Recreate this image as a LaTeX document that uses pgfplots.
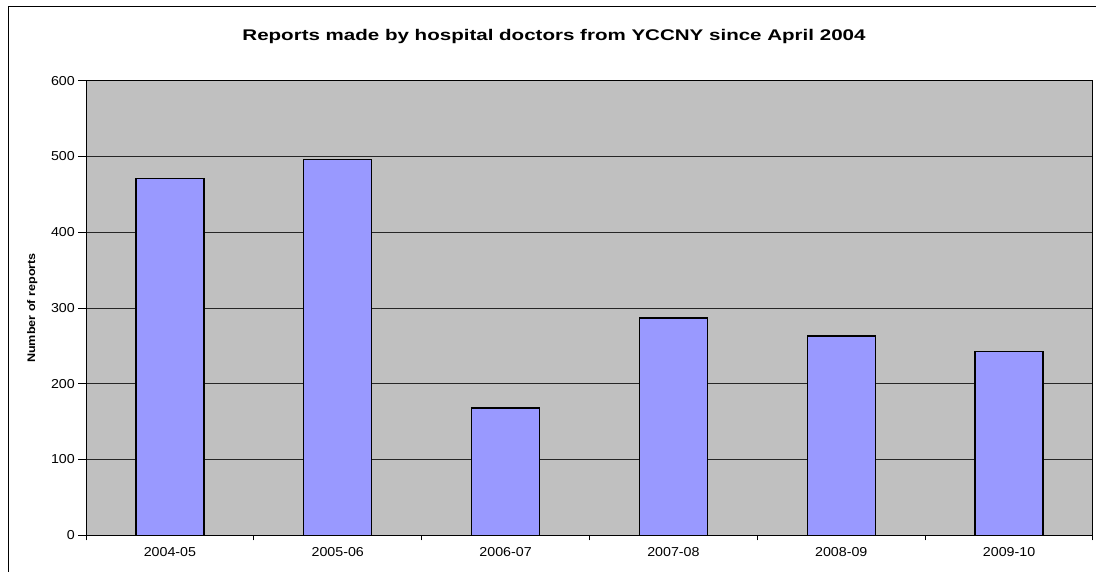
\documentclass[border=0pt]{standalone}
\usepackage{fontspec}
\setmainfont{Liberation Sans}
\newfontfamily\titlefont[FakeStretch=1.33]{Liberation Sans Bold}
\newfontfamily\labfont[FakeStretch=1.15]{Liberation Sans Bold}
\newfontfamily\tickfont[FakeStretch=1.1]{Liberation Sans}
\usepackage{pgfplots}
\pgfplotsset{compat=1.18}
\definecolor{plotbg}{HTML}{C0C0C0}
\definecolor{barblue}{HTML}{9999FF}
\begin{document}
\begin{tikzpicture}
\path[use as bounding box] (0,0) rectangle (1096bp,-572bp);
\draw[line width=1.2bp] (8.5bp,-6.5bp) rectangle (1120bp,-600bp);
\begin{axis}[
  at={(86bp,-535.3bp)}, anchor=south west,
  scale only axis, width=1007bp, height=454.6bp,
  xmin=-0.5, xmax=5.5, ymin=0, ymax=600,
  ytick={0,100,...,600},
  xtick={0,...,5},
  xticklabels={2004-05,2005-06,2006-07,2007-08,2008-09,2009-10},
  major x tick style={draw=none},
  minor xtick={-0.5,0.5,...,5.5},
  tick align=outside,
  major tick length=8bp,
  minor tick length=5bp,
  tick style={black, line width=1bp},
  xtick pos=bottom, ytick pos=left,
  axis background/.style={fill=plotbg},
  axis line style={black, line width=1bp},
  ymajorgrids,
  grid style={black!85, line width=1bp},
  /pgf/number format/assume math mode=true,
  ticklabel style={font=\tickfont\fontsize{13}{13}\selectfont, text=black},
  yticklabel style={anchor=east, inner sep=0pt, xshift=-3bp},
  xticklabel style={anchor=north, inner sep=0pt, yshift=-4bp},
  ybar, bar width=0.405,
]
\addplot[fill=barblue, draw=black, line width=1.3bp] coordinates {
  (0,471) (1,496) (2,168) (3,287) (4,263) (5,243)
};
\end{axis}
\node[font=\titlefont\fontsize{15.5}{15.5}\selectfont, anchor=base] at (554bp,-40bp)
  {Reports made by hospital doctors from YCCNY since April 2004};
\node[font=\labfont\fontsize{11}{11}\selectfont, rotate=90, anchor=base] at (35bp,-308bp)
  {Number of reports};
\end{tikzpicture}
\end{document}
